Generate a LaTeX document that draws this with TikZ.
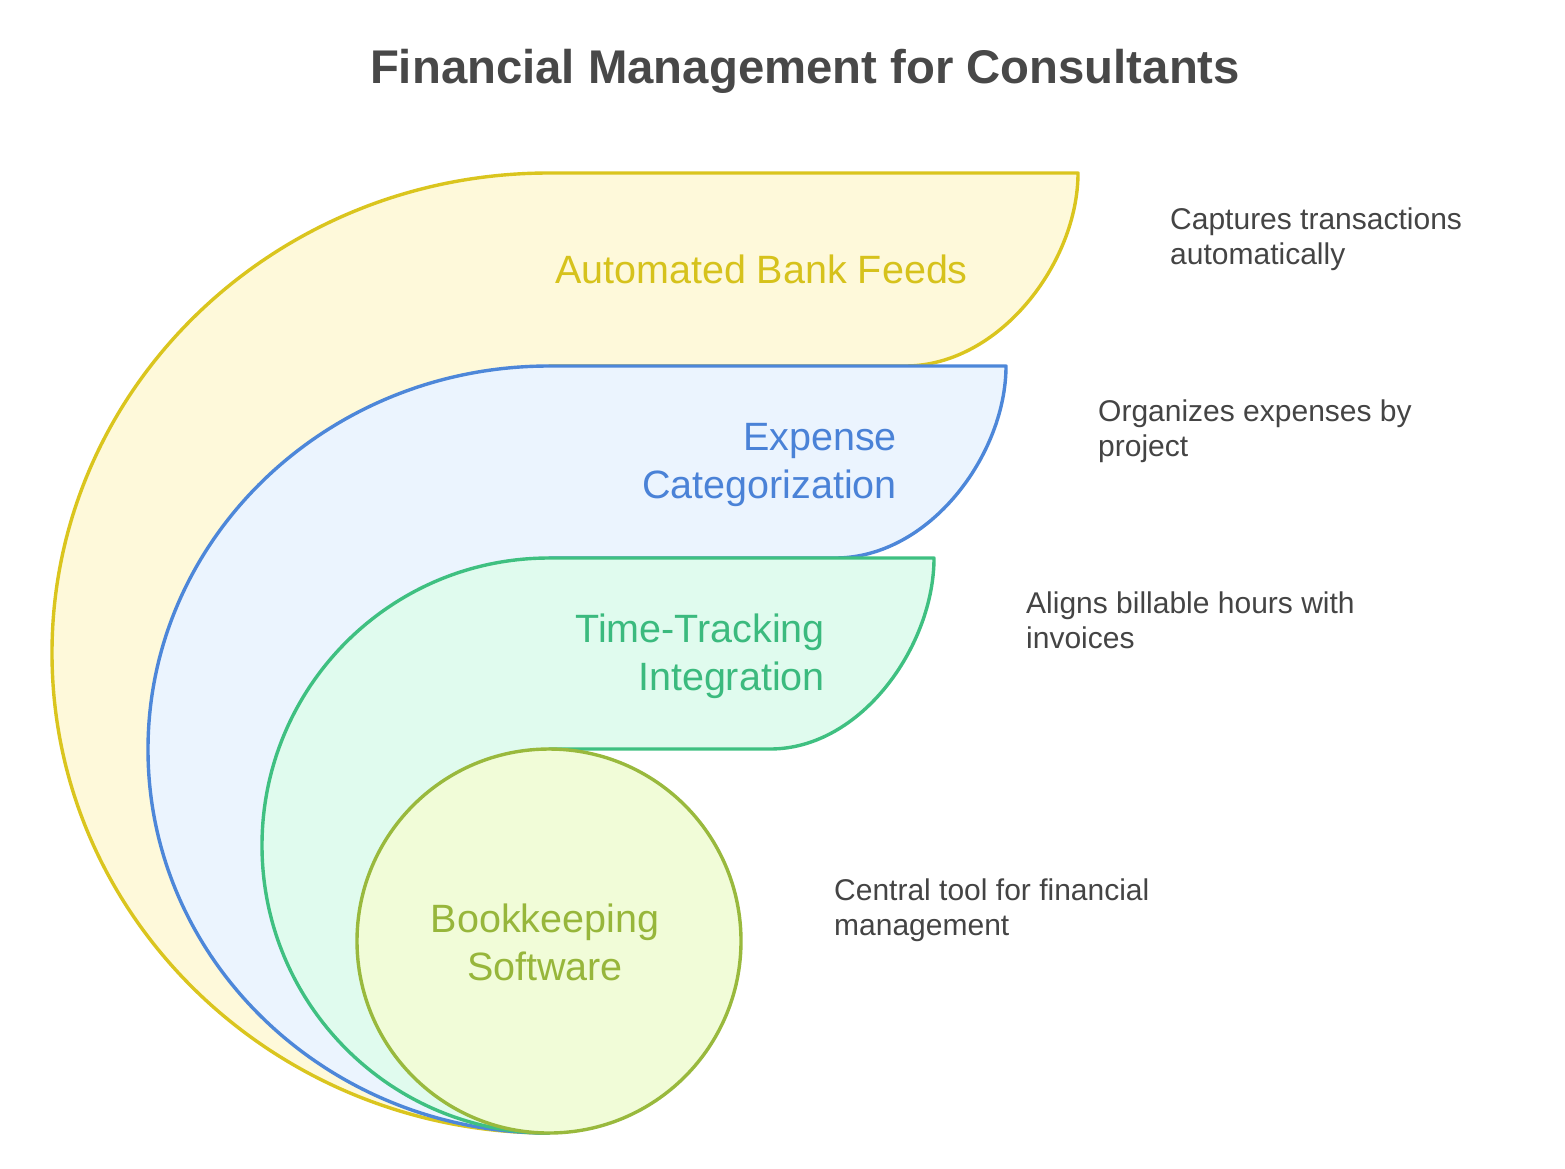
\documentclass[tikz,border=0pt]{standalone}
\usepackage{fontspec}
\setmainfont{Liberation Sans}
\definecolor{yelS}{HTML}{DAC51E}
\definecolor{yelF}{HTML}{FEF9DA}
\definecolor{yelT}{HTML}{D6C21C}
\definecolor{bluS}{HTML}{4D87D9}
\definecolor{bluF}{HTML}{EBF4FE}
\definecolor{bluT}{HTML}{4A82D7}
\definecolor{grnS}{HTML}{3FC081}
\definecolor{grnF}{HTML}{E0FBEE}
\definecolor{grnT}{HTML}{3BBA7E}
\definecolor{olvS}{HTML}{99B93D}
\definecolor{olvF}{HTML}{F1FCD8}
\definecolor{olvT}{HTML}{97B63B}
\definecolor{darkT}{HTML}{444444}
\definecolor{titleT}{HTML}{484848}
\tikzset{
  shapeline/.style={line width=3.4pt, line join=round},
  labtext/.style={inner sep=0pt, font=\fontsize{39.5}{48}\selectfont},
  desctext/.style={inner sep=0pt, align=left, anchor=base west, text=darkT, font=\fontsize{30}{35}\selectfont},
}
\begin{document}
\begin{tikzpicture}[x=1pt,y=1pt]
\useasboundingbox (0,0) rectangle (1565,-1168);
% title
\node[inner sep=0pt, anchor=base, text=titleT, font=\fontsize{47.3}{56}\selectfont\bfseries] (title) at (805,-83) {Financial Management for Consultants};
% yellow
\filldraw[shapeline, draw=yelS, fill=yelF] (549,-1133) arc[start angle=270, end angle=90, x radius=497, y radius=480]
  -- (1078,-173) .. controls (1078,-262) and (1000,-366) .. (905,-366) -- (549,-366) -- cycle;
% blue
\filldraw[shapeline, draw=bluS, fill=bluF] (549,-1133) arc[start angle=270, end angle=90, x radius=401, y radius=383.5]
  -- (1006,-366) .. controls (1006,-454) and (930,-558) .. (835,-558) -- (549,-558) -- cycle;
% green
\filldraw[shapeline, draw=grnS, fill=grnF] (549,-1133) arc[start angle=270, end angle=90, x radius=287, y radius=287.5]
  -- (934,-558) .. controls (934,-645) and (862,-749) .. (770,-749) -- (549,-749) -- cycle;
% circle
\filldraw[shapeline, draw=olvS, fill=olvF] (549,-941) circle[radius=192];
% labels (base anchor = last line's baseline)
\node[labtext, anchor=base east, text=yelT] (labA) at (968,-283) {Automated Bank Feeds};
\node[labtext, anchor=base east, align=right, text=bluT] (labB) at (897,-498) {Expense\\Categorization};
\node[labtext, anchor=base east, align=right, text=grnT] (labC) at (825,-690) {Time-Tracking\\Integration};
\node[labtext, anchor=base, align=center, text=olvT] (labD) at (545,-980) {Bookkeeping\\Software};
% descriptions
\node[desctext] (descA) at (1170,-264) {Captures transactions\\automatically};
\node[desctext] (descB) at (1098,-456) {Organizes expenses by\\project};
\node[desctext] (descC) at (1026,-648) {Aligns billable hours with\\invoices};
\node[desctext] (descD) at (834,-935) {Central tool for financial\\management};
\end{tikzpicture}
\end{document}
